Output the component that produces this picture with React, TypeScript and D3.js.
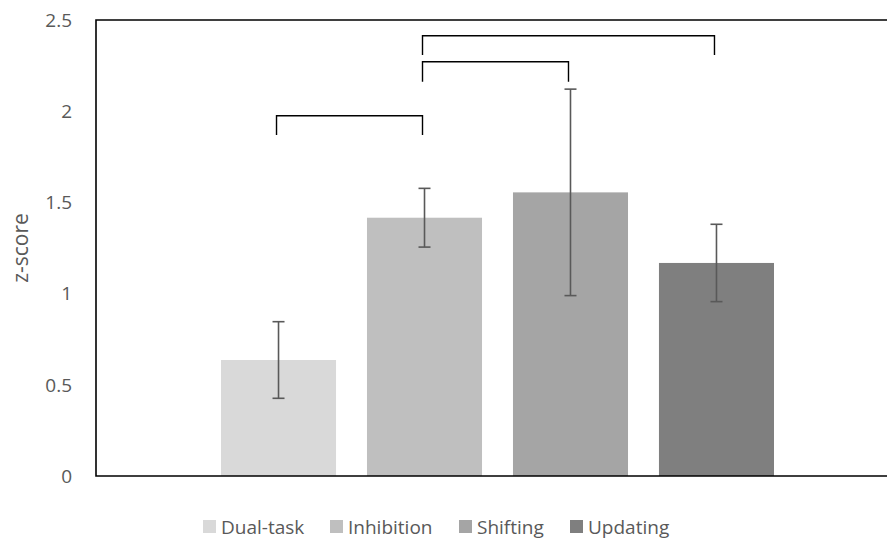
import React from "react";
import { scaleBand, scaleLinear } from "d3";

const series = ["Dual-task", "Inhibition", "Shifting", "Updating"];
const means = [0.636, 1.416, 1.555, 1.168];
const errors = [0.21, 0.161, 0.566, 0.212];
const colors = ["#d9d9d9", "#bfbfbf", "#a5a5a5", "#7f7f7f"];
const yTicks = [0, 0.5, 1, 1.5, 2, 2.5];
// significance brackets: [from series, to series, bar height, leg bottom]
const brackets: [number, number, number, number][] = [
  [0, 1, 1.975, 1.87],
  [1, 2, 2.271, 2.162],
  [1, 3, 2.414, 2.308],
];

const W = 887;
const H = 540;
const font = "'Open Sans', 'Liberation Sans', sans-serif";

const App = () => {
  const left = 96;
  const right = 899;
  const top = 20;
  const bottom = 476;
  const y = scaleLinear().domain([0, 2.5]).range([bottom, top]);
  const x = scaleBand<string>()
    .domain(series)
    .range([221, 774])
    .paddingInner(0.212)
    .paddingOuter(0);
  const bw = x.bandwidth();
  const cx = (i: number) => (x(series[i]) as number) + bw / 2;

  const legendX = [203, 330, 459, 570];

  return (
    <svg
      width={W}
      height={H}
      style={{ position: "absolute", left: 0, top: 0, background: "#fff" }}
      fontFamily={font}
    >
      {series.map((s, i) => (
        <rect
          key={s}
          x={x(s)}
          y={y(means[i])}
          width={bw}
          height={bottom - y(means[i])}
          fill={colors[i]}
        />
      ))}
      {series.map((s, i) => {
        const c = cx(i);
        const hi = y(means[i] + errors[i]);
        const lo = y(means[i] - errors[i]);
        return (
          <g key={s} stroke="#595959" strokeWidth={1.6}>
            <line x1={c} x2={c} y1={hi} y2={lo} />
            <line x1={c - 6} x2={c + 6} y1={hi} y2={hi} />
            <line x1={c - 6} x2={c + 6} y1={lo} y2={lo} />
          </g>
        );
      })}
      {/* frame */}
      <path
        d={`M${right},${top}H${left}V${bottom}H${right}`}
        fill="none"
        stroke="#000"
        strokeWidth={1.6}
      />
      {brackets.map(([a, b, lev, leg], k) => {
        const x1 = cx(a) - 2;
        const x2 = cx(b) - 2;
        return (
          <path
            key={k}
            d={`M${x1},${y(leg)}V${y(lev)}H${x2}V${y(leg)}`}
            fill="none"
            stroke="#000"
            strokeWidth={1.4}
          />
        );
      })}
      {yTicks.map((t) => (
        <text
          key={t}
          x={72}
          y={y(t)}
          dy="0.36em"
          textAnchor="end"
          fontSize={19}
          fill="#595959"
        >
          {t}
        </text>
      ))}
      <text
        transform={`translate(20,248) rotate(-90)`}
        textAnchor="middle"
        dy="0.36em"
        fontSize={21}
        fill="#595959"
      >
        z-score
      </text>
      {series.map((s, i) => (
        <g key={s}>
          <rect x={legendX[i]} y={520} width={13} height={13} fill={colors[i]} />
          <text
            x={legendX[i] + 18}
            y={527}
            dy="0.36em"
            fontSize={19}
            fill="#595959"
          >
            {s}
          </text>
        </g>
      ))}
    </svg>
  );
};

export default App;
